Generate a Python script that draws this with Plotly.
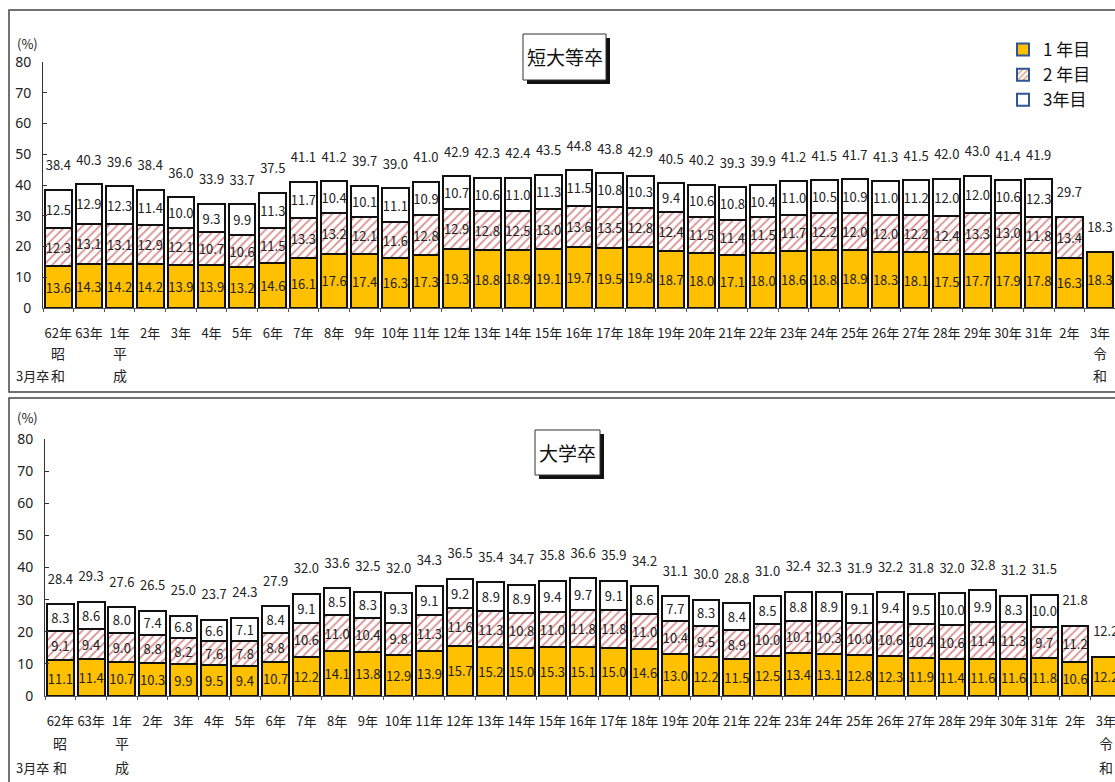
import plotly.graph_objects as go

# ---------------- data ----------------
categories = ["S62", "S63"] + [f"H{i}" for i in range(1, 32)] + ["R2", "R3"]
tick_labels = ["62年", "63年"] + [f"{i}年" for i in range(1, 32)] + ["2年", "3年"]

series_names = ["1 年目", "2 年目", "3年目"]

# 短大等卒
tandai_y1 = [13.6, 14.3, 14.2, 14.2, 13.9, 13.9, 13.2, 14.6, 16.1, 17.6, 17.4, 16.3, 17.3, 19.3, 18.8,
             18.9, 19.1, 19.7, 19.5, 19.8, 18.7, 18.0, 17.1, 18.0, 18.6, 18.8, 18.9, 18.3, 18.1, 17.5,
             17.7, 17.9, 17.8, 16.3, 18.3]
tandai_y2 = [12.3, 13.1, 13.1, 12.9, 12.1, 10.7, 10.6, 11.5, 13.3, 13.2, 12.1, 11.6, 12.8, 12.9, 12.8,
             12.5, 13.0, 13.6, 13.5, 12.8, 12.4, 11.5, 11.4, 11.5, 11.7, 12.2, 12.0, 12.0, 12.2, 12.4,
             13.3, 13.0, 11.8, 13.4, None]
tandai_y3 = [12.5, 12.9, 12.3, 11.4, 10.0, 9.3, 9.9, 11.3, 11.7, 10.4, 10.1, 11.1, 10.9, 10.7, 10.6,
             11.0, 11.3, 11.5, 10.8, 10.3, 9.4, 10.6, 10.8, 10.4, 11.0, 10.5, 10.9, 11.0, 11.2, 12.0,
             12.0, 10.6, 12.3, None, None]
tandai_total = [38.4, 40.3, 39.6, 38.4, 36.0, 33.9, 33.7, 37.5, 41.1, 41.2, 39.7, 39.0, 41.0, 42.9, 42.3,
                42.4, 43.5, 44.8, 43.8, 42.9, 40.5, 40.2, 39.3, 39.9, 41.2, 41.5, 41.7, 41.3, 41.5, 42.0,
                43.0, 41.4, 41.9, 29.7, 18.3]

# 大学卒
daigaku_y1 = [11.1, 11.4, 10.7, 10.3, 9.9, 9.5, 9.4, 10.7, 12.2, 14.1, 13.8, 12.9, 13.9, 15.7, 15.2,
              15.0, 15.3, 15.1, 15.0, 14.6, 13.0, 12.2, 11.5, 12.5, 13.4, 13.1, 12.8, 12.3, 11.9, 11.4,
              11.6, 11.6, 11.8, 10.6, 12.2]
daigaku_y2 = [9.1, 9.4, 9.0, 8.8, 8.2, 7.6, 7.8, 8.8, 10.6, 11.0, 10.4, 9.8, 11.3, 11.6, 11.3,
              10.8, 11.0, 11.8, 11.8, 11.0, 10.4, 9.5, 8.9, 10.0, 10.1, 10.3, 10.0, 10.6, 10.4, 10.6,
              11.4, 11.3, 9.7, 11.2, None]
daigaku_y3 = [8.3, 8.6, 8.0, 7.4, 6.8, 6.6, 7.1, 8.4, 9.1, 8.5, 8.3, 9.3, 9.1, 9.2, 8.9,
              8.9, 9.4, 9.7, 9.1, 8.6, 7.7, 8.3, 8.4, 8.5, 8.8, 8.9, 9.1, 9.4, 9.5, 10.0,
              9.9, 8.3, 10.0, None, None]
daigaku_total = [28.4, 29.3, 27.6, 26.5, 25.0, 23.7, 24.3, 27.9, 32.0, 33.6, 32.5, 32.0, 34.3, 36.5, 35.4,
                 34.7, 35.8, 36.6, 35.9, 34.2, 31.1, 30.0, 28.8, 31.0, 32.4, 32.3, 31.9, 32.2, 31.8, 32.0,
                 32.8, 31.2, 31.5, 21.8, 12.2]

# ---------------- style ----------------
W, H = 1115, 782
FONT = "Noto Sans CJK JP"
TXT = "#222222"
YELLOW = "#FFC000"
HATCH = "#D07070"
EDGE = "#111111"


def px_x(p):
    return p / W


def px_y(p):
    return 1 - p / H


def fmt(v):
    return "" if v is None else f"{v:.1f}"


fig = go.Figure()

panels = [
    (tandai_y1, tandai_y2, tandai_y3, tandai_total, "x", "y"),
    (daigaku_y1, daigaku_y2, daigaku_y3, daigaku_total, "x2", "y2"),
]

for y1, y2, y3, tot, xa, ya in panels:
    common = dict(xaxis=xa, yaxis=ya, showlegend=False, textposition="inside",
                  insidetextanchor="middle", constraintext="none", textangle=0,
                  textfont=dict(family=FONT, size=13, color=TXT), hoverinfo="skip")
    fig.add_trace(go.Bar(x=categories, y=y1, text=[fmt(v) for v in y1],
                         marker=dict(color=YELLOW, line=dict(color=EDGE, width=2)), **common))
    fig.add_trace(go.Bar(x=categories, y=y2, text=[fmt(v) for v in y2],
                         marker=dict(color="white", line=dict(color=EDGE, width=2),
                                     pattern=dict(shape="/", fgcolor=HATCH, bgcolor="white",
                                                  size=6, solidity=0.3, fgopacity=0.8)), **common))
    fig.add_trace(go.Bar(x=categories, y=y3, text=[fmt(v) for v in y3],
                         marker=dict(color="white", line=dict(color=EDGE, width=2)), **common))
    fig.add_trace(go.Scatter(x=categories, y=[t + 7.4 for t in tot], text=[fmt(t) for t in tot],
                             mode="text", textposition="middle center",
                             textfont=dict(family=FONT, size=13, color=TXT),
                             xaxis=xa, yaxis=ya, showlegend=False, hoverinfo="skip"))

# legend-only entries (blue-outlined swatches)
LEG_EDGE = "#2F5597"
fig.add_trace(go.Bar(x=[None], y=[None], name=series_names[0], xaxis="x", yaxis="y",
                     marker=dict(color=YELLOW, line=dict(color=LEG_EDGE, width=2))))
fig.add_trace(go.Bar(x=[None], y=[None], name=series_names[1], xaxis="x", yaxis="y",
                     marker=dict(color="white", line=dict(color=LEG_EDGE, width=2),
                                 pattern=dict(shape="/", fgcolor="#C55A11", bgcolor="white",
                                              size=5, solidity=0.45))))
fig.add_trace(go.Bar(x=[None], y=[None], name=series_names[2], xaxis="x", yaxis="y",
                     marker=dict(color="white", line=dict(color=LEG_EDGE, width=2))))

xcommon = dict(type="category", categoryorder="array", categoryarray=categories,
               tickvals=categories, ticktext=tick_labels, tickson="boundaries",
               ticks="outside", ticklen=3, tickcolor="#555", showline=True,
               linecolor="#555", linewidth=1, showgrid=False, zeroline=False,
               tickangle=0, automargin=False,
               tickfont=dict(family=FONT, size=13, color=TXT), ticklabelstandoff=13)
ycommon = dict(range=[0, 80], dtick=10, ticks="inside", ticklen=4, tickcolor="#333",
               showline=True, linecolor="#333", linewidth=1, showgrid=False, zeroline=False,
               automargin=False,
               tickfont=dict(family="Noto Sans", size=14, color=TXT), ticklabelstandoff=8)

fig.update_layout(
    width=W, height=H,
    margin=dict(l=0, r=0, t=0, b=0, pad=0, autoexpand=False),
    paper_bgcolor="white", plot_bgcolor="rgba(0,0,0,0)",
    barmode="stack", bargap=0.13,
    font=dict(family=FONT, color=TXT),
    xaxis=dict(domain=[px_x(43), 1], range=[-0.5, 34.49], anchor="y", **xcommon),
    yaxis=dict(domain=[px_y(308), px_y(62)], anchor="x", **ycommon),
    xaxis2=dict(domain=[px_x(45), 1], range=[-0.5, 34.3], anchor="y2", **xcommon),
    yaxis2=dict(domain=[px_y(696), px_y(439)], anchor="x2", **ycommon),
    legend=dict(x=px_x(1003), y=px_y(32), xanchor="left", yanchor="top",
                font=dict(family=FONT, size=17, color="#111"), bgcolor="rgba(0,0,0,0)",
                itemwidth=30, tracegroupgap=0, traceorder="normal"),
)

shapes = []
annotations = []
# panel frames
shapes.append(dict(type="rect", xref="paper", yref="paper", x0=px_x(9), x1=1.01,
                   y0=px_y(392), y1=px_y(10), line=dict(color="#444", width=1.5), layer="below"))
shapes.append(dict(type="rect", xref="paper", yref="paper", x0=px_x(9), x1=1.01,
                   y0=-0.01, y1=px_y(398), line=dict(color="#444", width=1.5), layer="below"))

# title boxes
for (x0, x1, y0, y1, label) in [(523, 606, 34, 80, "短大等卒"), (535, 600, 430, 475, "大学卒")]:
    shapes.append(dict(type="rect", xref="paper", yref="paper", x0=px_x(x0 + 4), x1=px_x(x1 + 4),
                       y0=px_y(y1 + 4), y1=px_y(y0 + 4), fillcolor="#111", line=dict(width=0)))
    shapes.append(dict(type="rect", xref="paper", yref="paper", x0=px_x(x0), x1=px_x(x1),
                       y0=px_y(y1), y1=px_y(y0), fillcolor="white", line=dict(color="#333", width=1)))
    annotations.append(dict(text=label, xref="paper", yref="paper", x=px_x((x0 + x1) / 2),
                            y=px_y((y0 + y1) / 2), showarrow=False,
                            font=dict(family=FONT, size=19, color="#111"),
                            xanchor="center", yanchor="middle"))

# (%) and era labels
for xa, ytop, yrow2, yrow3 in [("x", 44, 353, 375), ("x2", 417, 743, 767)]:
    annotations.append(dict(text="(%)", xref="paper", yref="paper", x=px_x(27), y=px_y(ytop),
                            xanchor="center", yanchor="middle",
                            showarrow=False, font=dict(family=FONT, size=13, color=TXT)))
    for cat, era in [("S62", "昭和"), ("H1", "平成"), ("R3", "令和")]:
        for ch, yy in zip(era, (yrow2, yrow3)):
            annotations.append(dict(text=ch, xref=xa, yref="paper", x=cat, y=px_y(yy),
                                    xanchor="center", yanchor="middle", showarrow=False,
                                    font=dict(family=FONT, size=14, color=TXT)))
    annotations.append(dict(text="3月卒", xref="paper", yref="paper", x=px_x(32), y=px_y(yrow3),
                            xanchor="center", yanchor="middle",
                            showarrow=False, font=dict(family=FONT, size=13, color=TXT)))

fig.update_layout(shapes=shapes, annotations=annotations)

fig.write_html("out.html", post_script="document.body.style.margin='0';",
               config={"displayModeBar": False})
